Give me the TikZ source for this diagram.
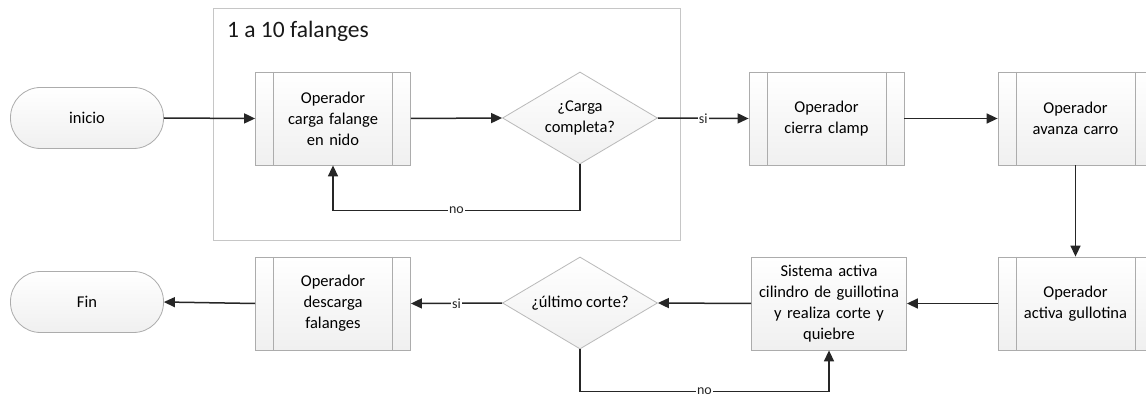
\documentclass[tikz,border=0pt]{standalone}
\usepackage{fontspec}
\setmainfont{Carlito}
\usetikzlibrary{shapes.geometric,arrows.meta,calc}
\begin{document}
\begin{tikzpicture}[x=1pt,y=-1pt,
  txt/.style={font=\fontsize{16.5}{21}\selectfont, text=black},
  shade/.style={top color=white, bottom color=gray!12},
  proc/.style={txt, shade, draw=gray!65, line width=0.8pt, minimum width=155pt, minimum height=93pt, align=center, text width=152pt, inner sep=0pt},
  subproc/.style={proc, text width=116pt, path picture={
      \draw[gray!65, line width=0.8pt] ([xshift=18pt]path picture bounding box.north west) -- ([xshift=18pt]path picture bounding box.south west);
      \draw[gray!65, line width=0.8pt] ([xshift=-18pt]path picture bounding box.north east) -- ([xshift=-18pt]path picture bounding box.south east);}},
  term/.style={txt, shade, draw=gray!65, line width=0.8pt, minimum width=153pt, minimum height=61pt, rounded corners=30pt, inner sep=0pt},
  decision/.style={txt, shade, draw=gray!55, line width=0.8pt, diamond, shape aspect=1.68, minimum width=155pt, minimum height=92pt, inner sep=0pt, align=center},
  flow/.style={draw=black!85, line width=1.5pt, -{Triangle[length=11pt,width=10pt]}},
  lab/.style={fill=white, font=\fontsize{14}{15}\selectfont, text=black!85, inner sep=1pt}
]
\useasboundingbox (0,0) rectangle (1146,398);
\fill[white] (0,0) rectangle (1146,398);
% container
\node[draw=gray!45, line width=0.8pt, minimum width=467pt, minimum height=232pt, inner sep=0pt] (grp) at (446.5,124) {};
\node[anchor=west, font=\fontsize{23.5}{26}\selectfont, text=black!90, inner sep=0pt] (grptitle) at (227,31) {1 a 10 falanges};
% nodes
\node[term] (ini) at (87,118) {inicio};
\node[subproc] (op1) at (333,118.5) {Operador\\carga falange\\en nido};
\node[decision] (d1) at (580,118) {¿Carga\\completa?};
\node[subproc] (op2) at (826.5,118.5) {Operador\\cierra clamp};
\node[subproc] (op3) at (1075.5,118.5) {Operador\\avanza carro};
\node[subproc] (op4) at (1075.5,303.5) {Operador\\activa gullotina};
\node[proc] (op5) at (829,303.5) {Sistema activa\\cilindro de guillotina\\y realiza corte y\\quiebre};
\node[decision] (d2) at (580,303) {¿último corte?};
\node[subproc] (op6) at (333,303.5) {Operador\\descarga\\falanges};
\node[term] (fin) at (87,302) {Fin};
% connectors
\draw[flow] (ini.east) -- (op1.west);
\draw[flow] (op1.east) -- (d1.west);
\draw[flow] (d1.east) -- node[lab]{si} (op2.west);
\draw[flow] (op2.east) -- (op3.west);
\draw[flow] (op3.south) -- (op4.north);
\draw[flow] (op4.west) -- (op5.east);
\draw[flow] (op5.west) -- (d2.east);
\draw[flow] (d2.west) -- node[lab]{si} (op6.east);
\draw[flow] (op6.west) -- (fin.east);
\draw[flow] (d1.south) -- ++(0,46) coordinate (c1) -| node[lab,pos=0.25]{no} (op1.south);
\draw[flow] (d2.south) -- ++(0,42) coordinate (c2) -| node[lab,pos=0.25]{no} (op5.south);
\end{tikzpicture}
\end{document}
